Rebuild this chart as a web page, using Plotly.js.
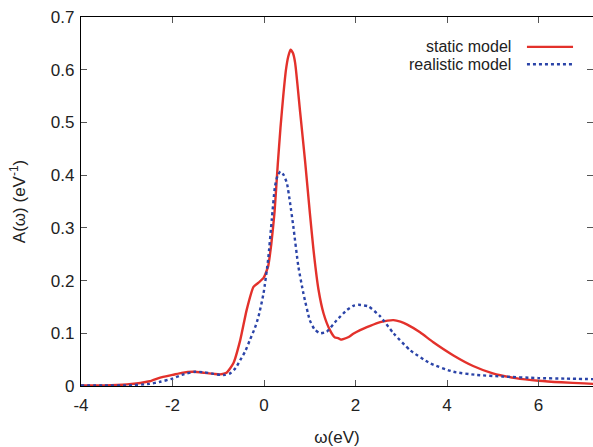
<!DOCTYPE html>
<html>
<head>
<meta charset="utf-8">
<script src="https://cdn.plot.ly/plotly-3.0.1.min.js"></script>
<style>html,body{margin:0;padding:0;background:#fff;}#chart{width:593px;height:447px;}</style>
</head>
<body>
<div id="chart"></div>
<script>
// static model
const staticX = [-4.0, -3.5, -3.0, -2.5, -2.27, -2.0, -1.8, -1.55, -1.3, -1.1, -0.96, -0.82, -0.67, -0.52, -0.38, -0.23, -0.12, -0.01, 0.09, 0.16, 0.23, 0.30, 0.36, 0.42, 0.48, 0.53, 0.58, 0.63, 0.68, 0.79, 0.90, 1.0, 1.08, 1.19, 1.30, 1.44, 1.55, 1.62, 1.68, 1.73, 1.85, 1.95, 2.1, 2.32, 2.54, 2.7, 2.83, 2.98, 3.12, 3.41, 3.70, 4.14, 4.57, 5.0, 5.5, 6.0, 6.5, 7.0, 7.2];
const staticY = [0.001, 0.001, 0.003, 0.009, 0.016, 0.021, 0.025, 0.027, 0.025, 0.023, 0.022, 0.025, 0.043, 0.087, 0.144, 0.188, 0.196, 0.205, 0.227, 0.27, 0.33, 0.42, 0.49, 0.55, 0.60, 0.625, 0.638, 0.632, 0.613, 0.519, 0.424, 0.33, 0.259, 0.183, 0.138, 0.106, 0.092, 0.091, 0.088, 0.089, 0.093, 0.099, 0.106, 0.114, 0.121, 0.124, 0.125, 0.122, 0.117, 0.102, 0.083, 0.058, 0.038, 0.024, 0.015, 0.010, 0.007, 0.005, 0.004];
// realistic model
const realX = [-4.0, -3.5, -3.0, -2.5, -2.27, -2.0, -1.8, -1.51, -1.3, -1.1, -0.96, -0.85, -0.74, -0.62, -0.52, -0.41, -0.31, -0.2, -0.12, -0.01, 0.09, 0.17, 0.24, 0.30, 0.36, 0.43, 0.50, 0.57, 0.64, 0.75, 0.86, 1.0, 1.1, 1.22, 1.37, 1.59, 1.81, 1.95, 2.06, 2.28, 2.54, 2.83, 3.19, 3.63, 4.14, 4.65, 5.2, 6.0, 6.6, 7.2];
const realY = [0.001, 0.001, 0.001, 0.004, 0.008, 0.014, 0.021, 0.027, 0.026, 0.023, 0.021, 0.021, 0.024, 0.034, 0.049, 0.066, 0.087, 0.11, 0.132, 0.176, 0.24, 0.316, 0.379, 0.40, 0.407, 0.40, 0.385, 0.347, 0.303, 0.227, 0.176, 0.125, 0.108, 0.100, 0.103, 0.125, 0.144, 0.152, 0.154, 0.151, 0.132, 0.100, 0.068, 0.043, 0.027, 0.021, 0.018, 0.015, 0.014, 0.013];

const seriesNames = ['static model', 'realistic model'];
const xTicks = [-4, -2, 0, 2, 4, 6];
const yTicks = [0, 0.1, 0.2, 0.3, 0.4, 0.5, 0.6, 0.7];
const yTickText = ['0', '0.1', '0.2', '0.3', '0.4', '0.5', '0.6', '0.7'];

const redC = '#e3312b';
const blueC = '#2b44a8';
const fontFam = 'Liberation Sans, Arial, sans-serif';
const txtC = '#222';

const traces = [
  {x: staticX, y: staticY, name: seriesNames[0], mode: 'lines', line: {color: redC, width: 2.4, shape: 'spline', smoothing: 0.5}},
  {x: realX, y: realY, name: seriesNames[1], mode: 'lines', line: {color: blueC, width: 2.4, dash: 'dot', shape: 'spline', smoothing: 0.5}}
];

const axisCommon = {
  showgrid: false, zeroline: false, showline: true, linecolor: '#000', linewidth: 1.2,
  mirror: 'ticks', ticks: 'inside', ticklen: 6, tickwidth: 1, tickcolor: '#555',
  tickfont: {family: fontFam, size: 17, color: txtC}
};

const layout = {
  width: 593, height: 447,
  margin: {l: 81, r: 0, t: 17, b: 61},
  paper_bgcolor: '#fff', plot_bgcolor: '#fff',
  showlegend: false,
  xaxis: Object.assign({}, axisCommon, {
    range: [-4, 7.19], tickvals: xTicks, ticktext: xTicks.map(String), ticklabelstandoff: 3,
    title: {text: 'ω(eV)', font: {family: fontFam, size: 17, color: txtC}, standoff: 20}
  }),
  yaxis: Object.assign({}, axisCommon, {
    range: [0, 0.7], tickvals: yTicks, ticktext: yTickText, ticklabelstandoff: 2,
    title: {text: 'A(ω) (eV<sup>-1</sup>)', font: {family: fontFam, size: 17, color: txtC}, standoff: 20}
  }),
  annotations: [
    {xref: 'paper', yref: 'paper', x: 0.843, y: 0.921, xanchor: 'right', yanchor: 'middle', showarrow: false,
     text: seriesNames[0], font: {family: fontFam, size: 16, color: txtC}},
    {xref: 'paper', yref: 'paper', x: 0.843, y: 0.870, xanchor: 'right', yanchor: 'middle', showarrow: false,
     text: seriesNames[1], font: {family: fontFam, size: 16, color: txtC}}
  ],
  shapes: [
    {type: 'line', xref: 'paper', yref: 'paper', x0: 0.871, x1: 0.961, y0: 0.919, y1: 0.919, line: {color: redC, width: 2.4}},
    {type: 'line', xref: 'paper', yref: 'paper', x0: 0.871, x1: 0.961, y0: 0.872, y1: 0.872, line: {color: blueC, width: 2.4, dash: 'dot'}}
  ]
};

Plotly.newPlot('chart', traces, layout, {displayModeBar: false, staticPlot: true});
</script>
</body>
</html>
